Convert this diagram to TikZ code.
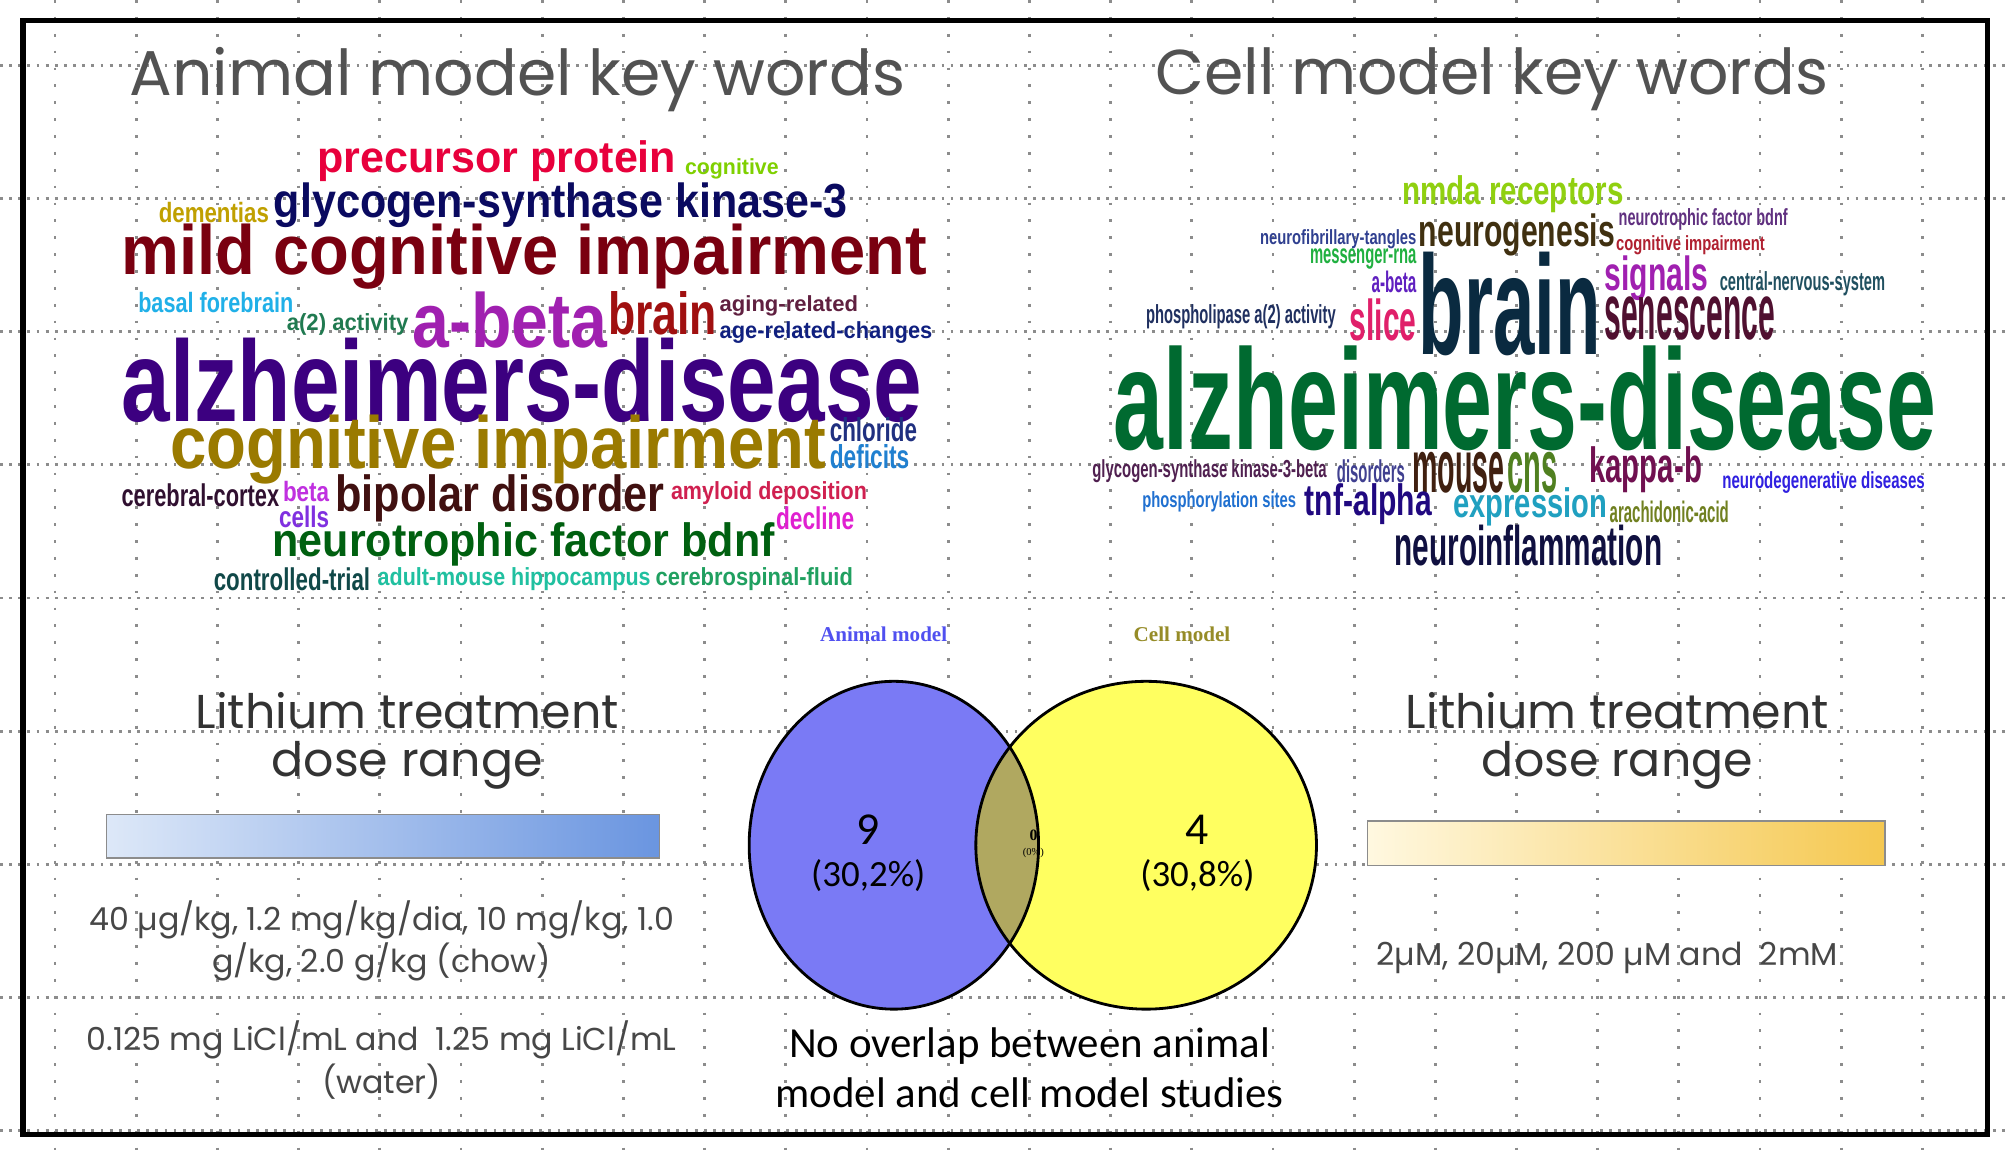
\documentclass[tikz,border=0pt]{standalone}
\usepackage{fontspec}
\usepackage{graphicx}
\setmainfont{Poppins}
\newfontfamily\cloudfont{Liberation Sans}
\newfontfamily\calfont{Carlito}
\newfontfamily\serifbold{Liberation Serif}

\tikzset{
  cloud/.style={inner sep=0pt, outer sep=0pt},
  title/.style={text=black!68, font=\fontsize{18}{22}\selectfont},
  dose/.style={text=black!80, font=\fontsize{13.5}{16}\selectfont},
  small/.style={text=black!72, font=\fontsize{9}{11}\selectfont},
}
% word of the cloud: name, x1, y1, x2, y2, colour, text
\newcommand{\wrd}[7]{%
  \node[cloud] (#1) at ({(#2+#4)/2},{(#3+#5)/2})
    {\resizebox*{\dimexpr(#4pt-#2pt)*3644/10000\relax}{\dimexpr(#5pt-#3pt)*3644/10000\relax}{\cloudfont\bfseries\textcolor[HTML]{#6}{#7}}};}

\begin{document}
\begin{tikzpicture}[x=0.012806cm, y=-0.012806cm]
\useasboundingbox (0,0) rectangle (1568,904);
\fill[white] (0,0) rectangle (1568,904);
% grid
\foreach \k in {0,...,23}
  \draw[black!45, line width=0.8pt, dash pattern=on 0.8pt off 4pt] ({43+63.4*\k},0) -- ({43+63.4*\k},904);
\foreach \k in {0,...,8}
  \draw[black!45, line width=0.8pt, dash pattern=on 0.8pt off 1.8pt] (0,{51+104*\k}) -- (1568,{51+104*\k});
\draw[black, line width=1.6pt] (18,16) rectangle (1552,886);

% titles
\node[title] (ttlA) at (404,62) {Animal model key words};
\node[title] (ttlC) at (1165,62) {Cell model key words};

% animal cloud
\wrd{a1}{248}{110}{528}{142}{E8003C}{precursor protein}
\wrd{a2}{535}{124}{608}{140}{7FD000}{cognitive}
\wrd{a3}{124}{158}{210}{174}{C0A000}{dementias}
\wrd{a4}{214}{143}{662}{178}{0A0A60}{glycogen-synthase kinase-3}
\wrd{a5}{95}{175}{724}{226}{7A0010}{mild cognitive impairment}
\wrd{a6}{108}{228}{229}{244}{20B0E8}{basal forebrain}
\wrd{a7}{224}{245}{319}{262}{207A50}{a(2) activity}
\wrd{a8}{322}{228}{474}{272}{A020B0}{a-beta}
\wrd{a9}{475}{228}{560}{262}{A01010}{brain}
\wrd{a10}{562}{231}{670}{247}{602040}{aging-related}
\wrd{a11}{562}{251}{728}{268}{102080}{age-related-changes}
\wrd{a12}{95}{264}{720}{330}{3C0080}{alzheimers-disease}
\wrd{a13}{133}{324}{645}{378}{9A7A00}{cognitive impairment}
\wrd{a14}{648}{326}{716}{345}{203080}{chloride}
\wrd{a15}{648}{347}{710}{366}{2080D0}{deficits}
\wrd{a16}{95}{378}{218}{396}{301030}{cerebral-cortex}
\wrd{a17}{221}{376}{257}{392}{C030E0}{beta}
\wrd{a18}{218}{395}{257}{412}{8030E0}{cells}
\wrd{a19}{262}{371}{519}{408}{401010}{bipolar disorder}
\wrd{a20}{524}{376}{677}{394}{D02050}{amyloid deposition}
\wrd{a21}{606}{396}{667}{414}{E020D0}{decline}
\wrd{a22}{213}{408}{605}{442}{006010}{neurotrophic factor bdnf}
\wrd{a23}{167}{443}{289}{461}{104848}{controlled-trial}
\wrd{a24}{295}{443}{508}{461}{20C0A0}{adult-mouse hippocampus}
\wrd{a25}{512}{443}{666}{461}{20A060}{cerebrospinal-fluid}

% cell cloud
\wrd{c1}{1095}{137}{1268}{166}{90D010}{nmda receptors}
\wrd{c2}{1264}{163}{1396}{180}{603080}{neurotrophic factor bdnf}
\wrd{c3}{984}{179}{1106}{194}{304090}{neurofibrillary-tangles}
\wrd{c4}{1108}{167}{1261}{200}{403010}{neurogenesis}
\wrd{c5}{1262}{184}{1378}{199}{B02030}{cognitive impairment}
\wrd{c6}{1023}{194}{1106}{210}{20B040}{messenger-rna}
\wrd{c7}{1071}{212}{1106}{229}{6020C0}{a-beta}
\wrd{c8}{1108}{197}{1250}{278}{0A2A40}{brain}
\wrd{c9}{1253}{200}{1334}{235}{A020B0}{signals}
\wrd{c10}{1343}{212}{1472}{231}{205060}{central-nervous-system}
\wrd{c11}{895}{238}{1043}{257}{203060}{phospholipase a(2) activity}
\wrd{c12}{1054}{233}{1106}{266}{E0206A}{slice}
\wrd{c13}{1253}{232}{1386}{266}{501030}{senescence}
\wrd{c14}{870}{270}{1512}{352}{006A30}{alzheimers-disease}
\wrd{c15}{853}{359}{1036}{377}{502050}{glycogen-synthase kinase-3-beta}
\wrd{c16}{1044}{359}{1097}{377}{404090}{disorders}
\wrd{c17}{1103}{353}{1175}{385}{402010}{mouse}
\wrd{c18}{1177}{353}{1216}{385}{508020}{cns}
\wrd{c19}{1241}{349}{1329}{385}{701050}{kappa-b}
\wrd{c20}{1345}{368}{1503}{385}{3020E0}{neurodegenerative diseases}
\wrd{c21}{892}{384}{1012}{400}{2070D0}{phosphorylation sites}
\wrd{c22}{1019}{378}{1118}{410}{200880}{tnf-alpha}
\wrd{c23}{1135}{381}{1255}{411}{20A0C0}{expression}
\wrd{c24}{1257}{391}{1350}{408}{708020}{arachidonic-acid}
\wrd{c25}{1089}{410}{1298}{442}{101040}{neuroinflammation}

% dose ranges
\node[dose] (doseA1) at (318,555) {Lithium treatment};
\node[dose] (doseA2) at (318,598) {dose range};
\shade[left color={rgb,255:red,221;green,232;blue,248}, right color={rgb,255:red,106;green,149;blue,224}, draw=black!45] (83,636) rectangle (515,670);
\node[small] (amtA1) at (298,718) {40 µg/kg, 1.2 mg/kg/dia, 10 mg/kg, 1.0};
\node[small] (amtA2) at (298,751) {g/kg, 2.0 g/kg (chow)};
\node[small] (amtA3) at (298,812) {0.125 mg LiCl/mL and \ 1.25 mg LiCl/mL};
\node[small] (amtA4) at (298,845) {(water)};

\node[dose] (doseC1) at (1263,555) {Lithium treatment};
\node[dose] (doseC2) at (1263,598) {dose range};
\shade[left color={rgb,255:red,255;green,248;blue,224}, right color={rgb,255:red,245;green,200;blue,80}, draw=black!45] (1068,641) rectangle (1472,676);
\node[small] (amtC1) at (1255,748) {2µM, 20µM, 200 µM and \ 2mM};

% venn
\fill[fill={rgb,255:red,122;green,122;blue,245}] (698,660) ellipse (113 and 128);
\fill[fill={rgb,255:red,255;green,255;blue,96}] (895,660) ellipse (133 and 128);
\begin{scope}
  \clip (698,660) ellipse (113 and 128);
  \fill[fill={rgb,255:red,176;green,168;blue,96}] (895,660) ellipse (133 and 128);
\end{scope}
\draw[black, line width=0.8pt] (698,660) ellipse (113 and 128);
\draw[black, line width=0.8pt] (895,660) ellipse (133 and 128);
\node[text={rgb,255:red,80;green,80;blue,240}, font=\serifbold\bfseries\fontsize{6}{7}\selectfont] (vA) at (690,495) {Animal model};
\node[text={rgb,255:red,150;green,140;blue,40}, font=\serifbold\bfseries\fontsize{6}{7}\selectfont] (vC) at (923,495) {Cell model};
\node[font=\calfont\fontsize{13}{15}\selectfont] (nA) at (678,648) {9};
\node[font=\calfont\fontsize{10.5}{12}\selectfont] (pA) at (678,684) {(30,2\%)};
\node[font=\serifbold\bfseries\fontsize{4.5}{5}\selectfont] (nO) at (807,652) {0};
\node[font=\serifbold\fontsize{3}{4}\selectfont] (pO) at (807,666) {(0\%)};
\node[font=\calfont\fontsize{13}{15}\selectfont] (nC) at (935,648) {4};
\node[font=\calfont\fontsize{10.5}{12}\selectfont] (pC) at (935,684) {(30,8\%)};
\node[font=\calfont\fontsize{12.2}{15}\selectfont] (note1) at (804,817) {No overlap between animal};
\node[font=\calfont\fontsize{12.2}{15}\selectfont] (note2) at (804,853) {model and cell model studies};
\end{tikzpicture}
\end{document}
